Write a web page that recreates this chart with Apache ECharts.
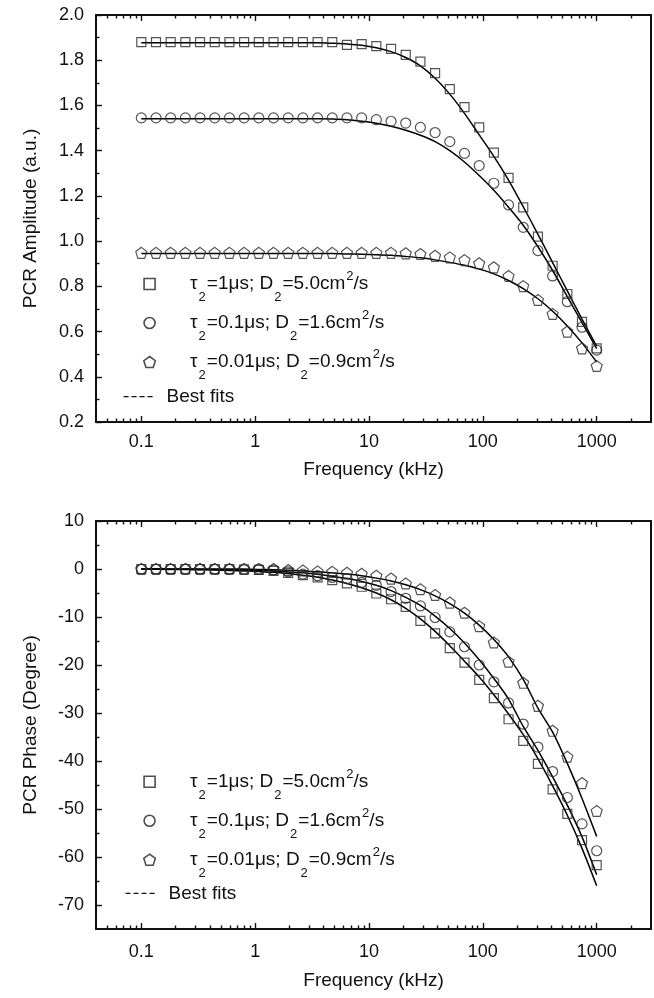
<!DOCTYPE html>
<html>
<head>
<meta charset="utf-8">
<script src="https://cdn.jsdelivr.net/npm/echarts@6/dist/echarts.min.js"></script>
<style>
  html, body { margin: 0; padding: 0; background: #fff; }
  #chart { width: 654px; height: 998px; }
</style>
</head>
<body>
<div id="chart"></div>
<script>
// frequencies (kHz), 32-point log sweep
const freqs = [0.1, 0.1346, 0.1811, 0.2438, 0.3281, 0.4416, 0.5944, 0.8, 1.077, 1.45, 1.951, 2.626,
  3.535, 4.758, 6.404, 8.62, 11.6, 15.62, 21.02, 28.29, 38.08, 51.26, 68.99, 92.9, 125.0, 168.2,
  226.4, 304.8, 410.2, 552.1, 743.2, 1000];

// amplitude data (a.u.)
const ampSquare = [1.88, 1.88, 1.88, 1.88, 1.88, 1.88, 1.88, 1.88, 1.88, 1.88, 1.88, 1.88, 1.88, 1.88,
  1.868, 1.871, 1.862, 1.85, 1.824, 1.794, 1.743, 1.672, 1.593, 1.503, 1.391, 1.28, 1.149, 1.02,
  0.891, 0.766, 0.643, 0.526];
const ampCircle = [1.545, 1.545, 1.545, 1.545, 1.545, 1.545, 1.545, 1.545, 1.545, 1.545, 1.545, 1.545,
  1.545, 1.545, 1.545, 1.545, 1.537, 1.53, 1.522, 1.503, 1.48, 1.44, 1.388, 1.334, 1.256, 1.16,
  1.061, 0.958, 0.846, 0.732, 0.619, 0.518];
const ampPenta = [0.948, 0.948, 0.948, 0.948, 0.948, 0.948, 0.948, 0.948, 0.948, 0.948, 0.948, 0.948,
  0.948, 0.948, 0.948, 0.948, 0.948, 0.948, 0.946, 0.943, 0.935, 0.928, 0.916, 0.902, 0.884, 0.846,
  0.801, 0.74, 0.678, 0.6, 0.526, 0.448];

// amplitude best fits
const fitAmpSquare = [1.877, 1.877, 1.877, 1.877, 1.877, 1.877, 1.877, 1.877, 1.877, 1.877, 1.877,
  1.877, 1.877, 1.875, 1.872, 1.866, 1.855, 1.838, 1.812, 1.775, 1.72, 1.65, 1.565, 1.47, 1.375,
  1.27, 1.152, 1.03, 0.905, 0.78, 0.655, 0.535];
const fitAmpCircle = [1.541, 1.541, 1.541, 1.541, 1.541, 1.541, 1.541, 1.541, 1.541, 1.541, 1.541,
  1.541, 1.541, 1.54, 1.537, 1.53, 1.521, 1.508, 1.49, 1.468, 1.44, 1.4, 1.35, 1.29, 1.225, 1.15,
  1.07, 0.975, 0.87, 0.755, 0.64, 0.525];
const fitAmpPenta = [0.945, 0.945, 0.945, 0.945, 0.945, 0.945, 0.945, 0.945, 0.945, 0.945, 0.945,
  0.945, 0.945, 0.945, 0.943, 0.942, 0.94, 0.937, 0.932, 0.926, 0.917, 0.906, 0.893, 0.876, 0.855,
  0.826, 0.79, 0.745, 0.69, 0.625, 0.55, 0.465];

// phase data (degree)
const phSquare = [0, 0, 0, 0, 0, 0, 0, -0.1, -0.2, -0.4, -0.8, -1.27, -1.76, -2.3, -3.0, -3.7, -5.1,
  -6.3, -7.9, -10.8, -13.4, -16.5, -19.5, -23.1, -26.9, -31.3, -35.8, -40.6, -45.9, -51.0, -56.5, -61.7];
const phCircle = [0, 0, 0, 0, 0, 0, 0, 0, 0, -0.2, -0.6, -1.06, -1.4, -1.76, -2.0, -2.8, -3.4, -4.7,
  -6.1, -7.7, -10.1, -13.1, -16.2, -20.0, -23.5, -27.9, -32.3, -37.1, -42.2, -47.6, -53.1, -58.7];
const phPenta = [0, 0, 0, 0, 0, 0, 0, 0, 0, 0, -0.2, -0.3, -0.5, -0.6, -0.8, -1.0, -1.4, -2.0, -3.0,
  -4.2, -5.4, -7.0, -9.1, -11.9, -15.3, -19.3, -23.7, -28.5, -33.7, -39.1, -44.6, -50.4];

// phase best fits
const fitPhSquare = [0, -0.05, -0.1, -0.1, -0.15, -0.2, -0.3, -0.4, -0.5, -0.7, -0.95, -1.3, -1.7,
  -2.3, -3.0, -3.9, -5.0, -6.4, -8.2, -10.4, -13.0, -16.0, -19.2, -22.5, -26.2, -30.2, -34.5, -39.5,
  -45.2, -51.3, -58.2, -66.0];
const fitPhCircle = [0, 0, -0.05, -0.05, -0.1, -0.1, -0.15, -0.2, -0.3, -0.4, -0.6, -0.8, -1.1, -1.5,
  -2.0, -2.6, -3.4, -4.5, -5.9, -7.6, -9.8, -12.4, -15.4, -18.9, -22.8, -27.1, -32.8, -37.8, -43.3,
  -49.2, -55.8, -63.7];
const fitPhPenta = [0, 0, 0, 0, 0, 0, 0, 0, -0.1, -0.15, -0.25, -0.4, -0.55, -0.8, -1.05, -1.4, -1.9,
  -2.5, -3.3, -4.3, -5.6, -7.2, -9.2, -11.7, -14.7, -18.3, -23.0, -29.0, -34.0, -40.5, -47.8, -55.7];

// legend parameters
const tauValues = ['1', '0.1', '0.01'];
const dValues = ['5.0', '1.6', '0.9'];

// ticks
const xMajor = [0.1, 1, 10, 100, 1000];
const xMinor = [0.05, 0.06, 0.07, 0.08, 0.09, 0.2, 0.3, 0.4, 0.5, 0.6, 0.7, 0.8, 0.9,
  2, 3, 4, 5, 6, 7, 8, 9, 20, 30, 40, 50, 60, 70, 80, 90, 200, 300, 400, 500, 600, 700, 800, 900, 2000];
const ampMajor = [0.2, 0.4, 0.6, 0.8, 1.0, 1.2, 1.4, 1.6, 1.8, 2.0];
const ampMinor = [0.3, 0.5, 0.7, 0.9, 1.1, 1.3, 1.5, 1.7, 1.9];
const phMajor = [-70, -60, -50, -40, -30, -20, -10, 0, 10];
const phMinor = [-65, -55, -45, -35, -25, -15, -5, 5];

const FONT = "'Liberation Sans', Arial, Helvetica, sans-serif";
const INK = '#111';

const legendNames = tauValues.map((t, i) => 'τ2=' + t + 'μs; D2=' + dValues[i] + 'cm2/s');
const legendRich = {};
tauValues.forEach((t, i) => {
  legendRich[legendNames[i]] = '{n|τ}{sub|2}{n|=' + t + 'μs; D}{sub|2}{n|=' + dValues[i] + 'cm}{sup|2}{n|/s}';
});

const fmtFreq = (v) => {
  const r = Number(Number(v).toPrecision(3));
  return xMajor.indexOf(r) >= 0 ? String(r) : '';
};

const labelStyle = { fontFamily: FONT, fontSize: 18, color: INK };
const nameStyle = { fontFamily: FONT, fontSize: 19, color: INK };

function makeXAxes(gridIndex, nameGap, labelMargin) {
  const base = {
    type: 'log', logBase: 10, min: 0.04, max: 3000, gridIndex,
    splitLine: { show: false }, silent: true
  };
  const tickLine = { color: INK, width: 1.4 };
  return [
    Object.assign({}, base, {
      position: 'bottom',
      axisLine: { show: true, onZero: false, lineStyle: { color: INK, width: 2 } },
      axisTick: { inside: true, length: 6, customValues: xMajor, lineStyle: tickLine },
      axisLabel: Object.assign({ customValues: xMajor, formatter: fmtFreq, margin: labelMargin }, labelStyle),
      name: 'Frequency (kHz)', nameLocation: 'middle', nameGap: nameGap, nameTextStyle: nameStyle
    }),
    Object.assign({}, base, {
      position: 'bottom',
      axisLine: { show: false, onZero: false },
      axisTick: { inside: true, length: 3.5, customValues: xMinor, lineStyle: tickLine },
      axisLabel: { show: false }
    }),
    Object.assign({}, base, {
      position: 'top',
      axisLine: { show: true, onZero: false, lineStyle: { color: INK, width: 2 } },
      axisTick: { inside: true, length: 6, customValues: xMajor, lineStyle: tickLine },
      axisLabel: { show: false }
    }),
    Object.assign({}, base, {
      position: 'top',
      axisLine: { show: false, onZero: false },
      axisTick: { inside: true, length: 3.5, customValues: xMinor, lineStyle: tickLine },
      axisLabel: { show: false }
    })
  ];
}

function makeYAxes(gridIndex, min, max, major, minor, name, fmt) {
  const base = { type: 'value', gridIndex, min, max, splitLine: { show: false }, silent: true };
  const tickLine = { color: INK, width: 1.4 };
  return [
    Object.assign({}, base, {
      position: 'left',
      axisLine: { show: true, onZero: false, lineStyle: { color: INK, width: 2 } },
      axisTick: { inside: true, length: 6, customValues: major, lineStyle: tickLine },
      axisLabel: Object.assign({ customValues: major, formatter: fmt, margin: 12 }, labelStyle),
      name: name, nameLocation: 'middle', nameGap: 56, nameTextStyle: nameStyle
    }),
    Object.assign({}, base, {
      position: 'left',
      axisLine: { show: false, onZero: false },
      axisTick: { inside: true, length: 3.5, customValues: minor, lineStyle: tickLine },
      axisLabel: { show: false }
    }),
    Object.assign({}, base, {
      position: 'right',
      axisLine: { show: true, onZero: false, lineStyle: { color: INK, width: 2 } },
      axisTick: { show: false },
      axisLabel: { show: false }
    })
  ];
}

const square = 'path://M0,0 L10,0 L10,10 L0,10 Z';
const pentagon = 'path://M0,-10 L9.51,-3.09 L5.88,8.09 L-5.88,8.09 L-9.51,-3.09 Z';
const markerStyle = { color: 'rgba(0,0,0,0)', borderColor: '#2a2a2a', borderWidth: 1.2 };

function pairs(ys) {
  return freqs.map((f, i) => [f, ys[i]]);
}

function scatter(name, symbol, size, ys, xi, yi) {
  return {
    type: 'scatter', name, symbol, symbolSize: size, data: pairs(ys),
    xAxisIndex: xi, yAxisIndex: yi, itemStyle: markerStyle, silent: true, z: 3
  };
}

function fitLine(ys, xi, yi) {
  return {
    type: 'line', name: 'Best fits', data: pairs(ys), smooth: 0.3, symbol: 'none',
    xAxisIndex: xi, yAxisIndex: yi, itemStyle: { color: '#000' },
    lineStyle: { color: '#000', width: 1.5 }, silent: true, z: 2
  };
}

function markerLegend(left, top) {
  return {
    data: legendNames, orient: 'vertical', left, top, padding: 0,
    itemWidth: 71, itemHeight: 11, itemGap: -1, selectedMode: false,
    itemStyle: { borderWidth: 1.6, borderColor: '#222' },
    formatter: (name) => legendRich[name],
    textStyle: {
      fontFamily: FONT, fontSize: 19, color: INK,
      rich: {
        n: { fontFamily: FONT, fontSize: 19, color: INK, lineHeight: 40, verticalAlign: 'middle' },
        sub: { fontFamily: FONT, fontSize: 13, color: INK, lineHeight: 13, verticalAlign: 'bottom', padding: [0, 1, 0, 1] },
        sup: { fontFamily: FONT, fontSize: 13, color: INK, lineHeight: 13, verticalAlign: 'top', padding: [6, 0, 0, 1] }
      }
    }
  };
}

function fitLegend(left, top, width, pad) {
  return {
    data: ['Best fits'], orient: 'vertical', left, top, padding: 0,
    itemWidth: width, itemHeight: 10, selectedMode: false,
    itemStyle: { color: 'rgba(0,0,0,0)', borderColor: 'rgba(0,0,0,0)', borderWidth: 0 },
    lineStyle: { type: [5, 3], width: 1.2, color: INK },
    textStyle: { fontFamily: FONT, fontSize: 19, color: INK, lineHeight: 20, padding: [0, 0, 0, pad] }
  };
}

const chart = echarts.init(document.getElementById('chart'));
chart.setOption({
  backgroundColor: '#fff',
  animation: false,
  grid: [
    { left: 96, top: 15, width: 555, height: 407, outerBoundsMode: 'none' },
    { left: 96, top: 521, width: 555, height: 408, outerBoundsMode: 'none' }
  ],
  xAxis: makeXAxes(0, 38, 11).concat(makeXAxes(1, 42, 14)),
  yAxis: makeYAxes(0, 0.2, 2.0, ampMajor, ampMinor, 'PCR Amplitude (a.u.)', (v) => v.toFixed(1))
    .concat(makeYAxes(1, -75, 10, phMajor, phMinor, 'PCR Phase (Degree)', (v) => String(v))),
  legend: [
    markerLegend(143, 264),
    fitLegend(123, 386.7, 29, 9),
    markerLegend(143, 761.7),
    fitLegend(125, 883.3, 30, 8)
  ],
  series: [
    scatter(legendNames[0], square, 9, ampSquare, 0, 0),
    scatter(legendNames[1], 'circle', 10, ampCircle, 0, 0),
    scatter(legendNames[2], pentagon, 11, ampPenta, 0, 0),
    fitLine(fitAmpSquare, 0, 0),
    fitLine(fitAmpCircle, 0, 0),
    fitLine(fitAmpPenta, 0, 0),
    scatter(legendNames[0], square, 9, phSquare, 4, 3),
    scatter(legendNames[1], 'circle', 10, phCircle, 4, 3),
    scatter(legendNames[2], pentagon, 11, phPenta, 4, 3),
    fitLine(fitPhSquare, 4, 3),
    fitLine(fitPhCircle, 4, 3),
    fitLine(fitPhPenta, 4, 3)
  ]
});
</script>
</body>
</html>
